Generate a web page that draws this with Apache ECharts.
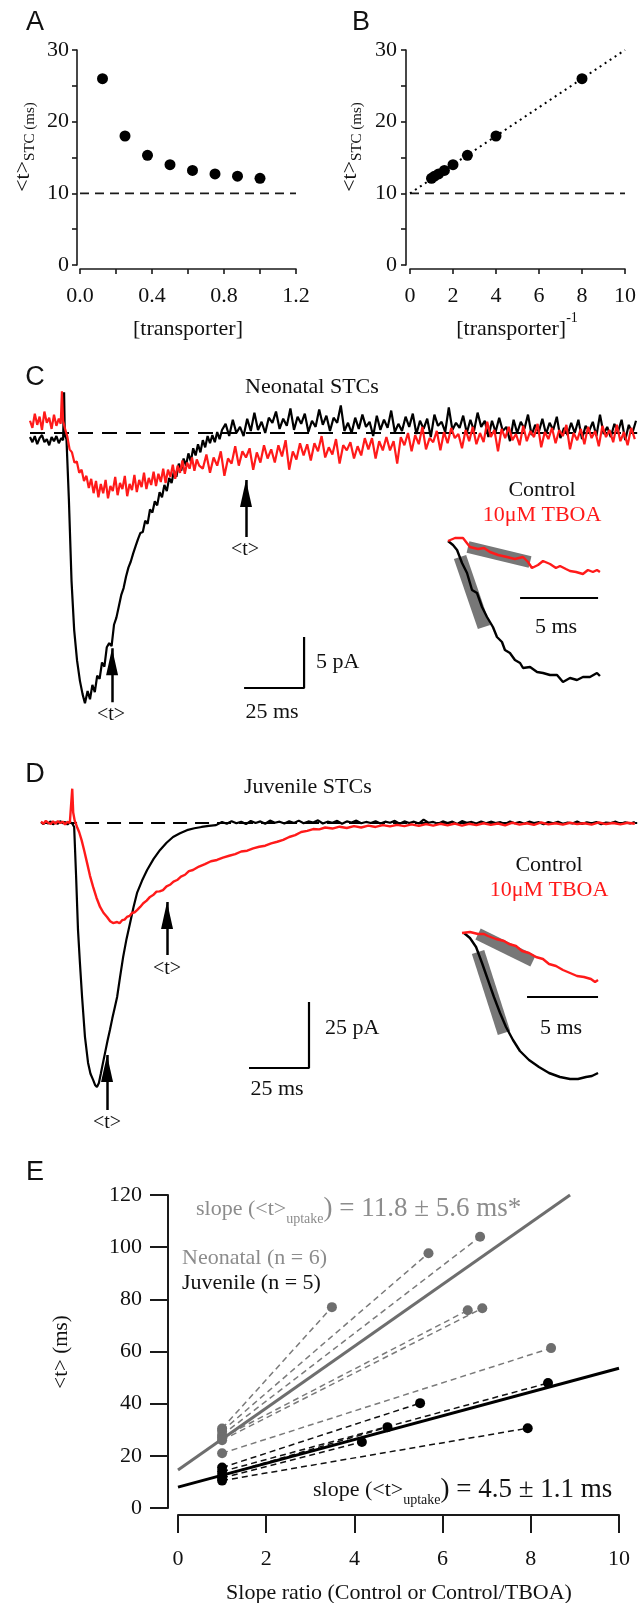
<!DOCTYPE html>
<html><head><meta charset="utf-8">
<script src="https://cdn.jsdelivr.net/npm/echarts@6/dist/echarts.min.js"></script>
<style>html,body{margin:0;padding:0;background:#fff}#chart{width:638px;height:1603px}</style>
</head><body><div id="chart"></div>
<script>
// ---------------- Panel A / B ----------------
const transporter = [0.125, 0.25, 0.375, 0.5, 0.625, 0.75, 0.875, 1.0];
const transporterInv = [8.0, 4.0, 2.67, 2.0, 1.6, 1.33, 1.14, 1.0];
const tauSTC = [26.0, 18.0, 15.3, 14.0, 13.2, 12.7, 12.4, 12.1];
const tauFloorA = [[0, 10], [1.2, 10]];
const tauFloorB = [[0, 10], [10, 10]];
const fitB = [[0, 10], [10, 30]];

// ---------------- Panel C (neonatal, ms / pA) ----------------
const cControl = [[0,-0.4],[1,-0.9],[2,-0.3],[3,-1.1],[4,-0.5],[5,-0.2],[6,-0.9],[7,-0.6],[8,-1.2],[9,-0.4],[10,-0.8],[11,-0.3],[12,-1.0],[13,-0.5],[13.8,-0.7],[14.2,4.0],[14.5,-0.2],[15.2,-0.6],[16.2,-6.5],[17.3,-14.5],[18.4,-19.3],[19.6,-22.3],[20.8,-24.3],[21.9,-25.6],[22.9,-26.5],[24,-25.3],[25,-26.1],[26,-24.7],[27,-25.4],[28,-23.8],[29,-24.1],[30,-22.5],[31,-22.9],[32,-21.0],[33,-20.6],[34,-20.9],[35,-18.8],[36,-18.1],[37,-17.0],[38,-15.9],[39,-15.2],[40,-14.1],[41,-13.2],[42,-12.6],[43,-11.8],[44,-11.1],[45,-10.4],[46,-9.8],[47,-9.7],[48,-8.6],[49,-8.9],[50,-7.5],[51,-7.8],[52,-6.7],[53,-7.1],[54,-5.8],[55,-6.3],[56,-5.1],[57,-5.7],[58,-4.4],[59,-4.9],[60,-3.7],[61,-4.3],[62,-3.0],[63,-3.7],[64,-2.5],[65,-3.2],[66,-2.0],[67,-2.8],[68,-1.5],[69,-2.2],[70,-1.1],[71,-1.9],[72,-0.7],[73,-1.4],[74,-0.3],[75,-1.0],[76,-0.2],[77,-0.9],[78,0.1],[79,-0.6],[80,0.3],
[81.5,0.9],[83,-0.3],[84.5,1.3],[86,0.0],[87.5,0.6],[89,-0.3],[90.5,1.4],[92,0.2],[93.5,2.0],[95,0.3],[96.5,1.1],[98,0.0],[99.5,1.5],[101,1.0],[102.5,2.1],[104,0.4],[105.5,1.4],[107,0.7],[108.5,2.4],[110,0.3],[111.5,1.6],[113,0.9],[114.5,1.9],[116,0.1],[117.5,1.2],[119,0.6],[120.5,2.3],[122,0.8],[123.5,1.7],[125,0.2],[126.5,1.5],[128,1.0],[129.5,2.7],[131,0.2],[132.5,1.0],[134,0.0],[135.5,1.5],[137,0.4],[138.5,1.8],[140,0.6],[141.5,1.1],[143,-0.3],[144.5,1.7],[146,0.3],[147.5,1.3],[149,0.5],[150.5,2.2],[152,0.1],[153.5,0.9],[155,0.2],[156.5,1.6],[158,0.6],[159.5,1.9],[161,-0.1],[162.5,1.2],[164,0.4],[165.5,1.4],[167,-0.4],[168.5,1.8],[170,0.7],[171.5,1.1],[173,0.1],[174.5,2.5],[176,0.3],[177.5,1.0],[179,0.5],[180.5,1.7],[182,0.0],[183.5,1.3],[185,0.2],[186.5,2.0],[188,0.6],[189.5,1.2],[191,-0.4],[192.5,1.2],[194,0.1],[195.5,1.5],[197,0.2],[198.5,0.6],[200,-0.8],[201.5,1.3],[203,0.0],[204.5,1.1],[206,0.4],[207.5,1.8],[209,-0.2],[210.5,0.8],[212,0.1],[213.5,1.4],[215,-0.1],[216.5,1.0],[218,0.3],[219.5,1.6],[221,-0.5],[222.5,0.5],[224,-0.2],[225.5,1.0],[227,0.0],[228.5,1.3],[230,-0.6],[231.5,0.7],[233,0.2],[234.5,1.1],[236,-0.3],[237.5,1.8],[239,-0.1],[240.5,0.6],[242,-0.4],[243.5,0.9],[245,0.1],[246.5,1.3],[248,-0.7],[249.5,0.8],[251,0.0],[252.5,1.2]];
const cTboa = [[0,1.2],[1,0.5],[2,1.9],[3,0.8],[4,1.6],[5,0.3],[6,2.1],[7,1.0],[8,1.5],[9,0.4],[10,1.8],[11,0.7],[12,1.4],[12.8,0.9],[13.3,4.1],[13.8,1.2],[14.6,0.4],[15.5,-0.3],[16.5,-1.6],[17.5,-1.9],[18.5,-2.9],[19.5,-2.8],[20.5,-3.9],[21.5,-3.6],[22.5,-4.7],[23.5,-4.2],[24.5,-5.4],[25.5,-4.5],[26.5,-5.9],[27.5,-4.7],[28.5,-6.3],[29.5,-5.0],[30.5,-5.9],[31.5,-4.6],[32.5,-6.4],[33.5,-5.2],[34.5,-5.7],[35.5,-4.3],[36.5,-6.1],[37.5,-4.9],[38.5,-5.5],[39.5,-4.2],[40.5,-6.2],[41.5,-5.0],[42.5,-5.6],[43.5,-4.1],[44.5,-5.8],[45.5,-4.6],[46.5,-5.3],[47.5,-3.9],[48.5,-5.5],[49.5,-4.4],[50.5,-5.1],[51.5,-3.8],[52.5,-5.2],[53.5,-4.0],[54.5,-4.8],[55.5,-3.5],[56.5,-4.9],[57.5,-3.6],[58.5,-4.3],[59.5,-3.1],[60.5,-4.5],[61.5,-3.2],[62.5,-3.9],[63.5,-2.7],[64.5,-4.0],[65.5,-2.9],[66.5,-3.5],[67.5,-2.4],[68.5,-3.7],[69.5,-2.6],[70.5,-3.2],
[72,-3.5],[73.5,-2.1],[75,-3.9],[76.5,-2.4],[78,-3.2],[79.5,-1.8],[81,-4.2],[82.5,-2.5],[84,-3.0],[85.5,-1.3],[87,-3.2],[88.5,-1.8],[90,-2.4],[91.5,-1.5],[93,-3.6],[94.5,-1.9],[96,-2.9],[97.5,-1.2],[99,-2.5],[100.5,-1.6],[102,-2.9],[103.5,-1.2],[105,-2.3],[106.5,-0.7],[108,-3.6],[109.5,-1.8],[111,-2.6],[112.5,-1.0],[114,-2.2],[115.5,-1.1],[117,-2.7],[118.5,-1.0],[120,-1.8],[121.5,-0.3],[123,-2.4],[124.5,-1.4],[126,-2.1],[127.5,-0.6],[129,-3.0],[130.5,-1.2],[132,-1.7],[133.5,-0.9],[135,-2.5],[136.5,-1.3],[138,-2.2],[139.5,-0.5],[141,-1.6],[142.5,-0.5],[144,-2.5],[145.5,-0.8],[147,-1.7],[148.5,-0.4],[150,-1.7],[151.5,-0.8],[153,-3.0],[154.5,-0.4],[156,-1.2],[157.5,0.0],[159,-1.8],[160.5,-0.2],[162,-1.1],[163.5,0.6],[165,-1.6],[166.5,-0.5],[168,-0.9],[169.5,0.2],[171,-1.7],[172.5,0.1],[174,-1.0],[175.5,0.5],[177,-0.5],[178.5,-0.1],[180,-1.5],[181.5,0.3],[183,-0.8],[184.5,0.6],[186,-1.1],[187.5,0.0],[189,-0.9],[190.5,1.1],[192,-0.4],[193.5,0.3],[195,-1.8],[196.5,0.4],[198,-0.5],[199.5,0.6],[201,-0.7],[202.5,-0.1],[204,-1.2],[205.5,0.7],[207,-0.8],[208.5,0.2],[210,-0.4],[211.5,0.9],[213,-1.4],[214.5,0.1],[216,-0.6],[217.5,0.5],[219,-1.0],[220.5,0.3],[222,-0.3],[223.5,0.8],[225,-1.6],[226.5,0.0],[228,-0.7],[229.5,0.4],[231,-1.1],[232.5,0.6],[234,-0.5],[235.5,0.2],[237,-1.3],[238.5,0.7],[240,-0.4],[241.5,0.3],[243,-0.9],[244.5,0.8],[246,-0.8],[247.5,0.1],[249,-1.2],[250.5,0.5],[252,-0.6]];
const cBaseline = [[0, 0], [253, 0]];
const cArrowT = [34.2, 90.0];
const cArrowTip = [-21.1, -4.6];
const cArrowEnd = [-26.4, -10.2];
const cScaleBar = [[89.2, -25], [114.2, -25], [114.2, -20]];

// C inset (ms / normalised)
const cInsetControl = [[0,0],[0.32,-0.4],[0.58,-0.9],[0.9,-2.2],[1.22,-3.2],[1.54,-4.9],[1.86,-5.2],[2.18,-6.6],[2.5,-7.6],[2.88,-8.6],[3.14,-9.6],[3.46,-10.1],[3.65,-10.9],[3.97,-11.2],[4.29,-11.9],[4.62,-12.2],[4.81,-12.7],[5.26,-12.6],[5.71,-13.1],[6.09,-13.2],[6.54,-13.4],[6.99,-13.4],[7.37,-14.1],[7.82,-13.7],[8.27,-13.9],[8.65,-13.6],[9.1,-13.6],[9.55,-13.2],[9.74,-13.5]];
const cInsetTboa = [[0,0],[0.45,0.3],[0.96,0.3],[1.41,-0.6],[1.92,-0.8],[2.31,-0.7],[2.69,-1.1],[3.21,-1.4],[3.78,-1.6],[4.29,-1.8],[4.81,-1.6],[5.13,-2.1],[5.38,-2.7],[5.77,-2.4],[6.09,-2.0],[6.54,-2.3],[6.92,-2.7],[7.18,-2.5],[7.56,-2.8],[7.82,-3.0],[8.21,-3.1],[8.65,-3.3],[8.97,-2.9],[9.29,-3.1],[9.55,-2.9],[9.74,-3.1]];
const cBandControl = [[0.77, -1.6], [2.31, -8.6]];
const cBandTboa = [[1.28, -0.6], [5.26, -2.1]];
const cInsetBar = [[4.62, -5.7], [9.62, -5.7]];

// ---------------- Panel D (juvenile, ms / pA) ----------------
const dControl = [[4.6,0.3],[5.6,-0.4],[6.6,0.5],[7.6,-0.2],[8.6,0.6],[9.6,-0.5],[10.6,0.2],[11.6,-0.3],[12.6,0.7],[13.6,-0.1],[14.6,0.4],[15.6,-0.6],[16.6,0.3],[17.6,-0.2],[18.4,-1.5],[19.2,-20.0],[20.0,-40.5],[20.8,-53.0],[21.7,-65.9],[22.9,-81.0],[24.2,-90.9],[25.2,-95.0],[26.3,-97.3],[27.1,-99.2],[27.9,-100.0],[28.7,-98.5],[29.5,-95.0],[30.4,-90.9],[31.4,-86.5],[32.3,-82.5],[33.3,-78.4],[34.3,-74.0],[35.3,-70.0],[36.3,-65.9],[37.5,-58.5],[38.8,-50.8],[40.2,-44.0],[41.7,-37.9],[43.1,-32.0],[44.6,-26.5],[46.7,-21.8],[48.8,-17.8],[51.5,-13.6],[54.2,-10.2],[56.9,-7.5],[59.6,-5.3],[62.5,-3.9],[65.4,-2.7],[68.5,-2.0],[71.5,-1.5],[74.5,-1.1],[77.5,-0.8],
[80,0.4],[82,-0.3],[84,0.7],[86,-0.1],[88,0.5],[90,-0.4],[92,0.8],[94,0.0],[96,0.6],[98,-0.3],[100,0.9],[102,0.1],[104,0.5],[106,-0.2],[108,0.7],[110,0.0],[112,0.9],[114,-0.1],[116,0.6],[118,0.2],[120,1.0],[122,-0.2],[124,0.5],[126,0.1],[128,0.8],[130,-0.3],[132,0.6],[134,0.2],[136,0.9],[138,-0.1],[140,0.4],[142,0.0],[144,0.7],[146,-0.2],[148,0.5],[150,0.1],[152,0.8],[154,-0.3],[156,0.6],[158,0.0],[160,0.5],[162,-0.2],[164,1.3],[166,0.1],[168,0.4],[170,-0.3],[172,0.6],[174,0.0],[176,0.5],[178,-0.4],[180,0.7],[182,0.1],[184,0.4],[186,-0.2],[188,0.6],[190,-0.1],[192,0.5],[194,0.0],[196,0.3],[198,-0.4],[200,0.6],[202,-0.1],[204,0.4],[206,-0.3],[208,0.5],[210,0.0],[212,0.3],[214,-0.5],[216,0.4],[218,-0.1],[220,0.5],[222,-0.3],[224,0.2],[226,-0.2],[228,0.6],[230,-0.4],[232,0.3],[234,-0.1],[236,0.4],[238,-0.5],[240,0.2],[242,0.0],[244,0.5],[246,-0.3],[248,0.3],[250,-0.2],[252,0.4]];
const dTboa = [[4.6,0.5],[5.6,-0.3],[6.6,0.8],[7.6,0.1],[8.6,-0.4],[9.6,0.6],[10.6,-0.2],[11.6,0.7],[12.6,0.0],[13.6,0.5],[14.6,-0.5],[15.6,0.4],[16.6,0.1],[17.2,0.8],[17.6,13.0],[18.0,4.0],[18.6,1.0],[19.6,-1.5],[20.5,-3.5],[21.5,-6.5],[22.6,-10.5],[23.8,-15.2],[25,-20.0],[26.3,-24.2],[27.7,-28.3],[29.2,-31.8],[30.6,-34.0],[32.1,-35.6],[33.4,-37.2],[34.6,-37.9],[35.4,-38.3],[36.3,-37.5],[37.3,-38.0],[38.4,-36.8],[39.4,-36.6],[40.4,-35.6],[41.5,-35.2],[42.5,-34.1],[43.6,-33.8],[44.6,-33.0],[45.9,-31.8],[47.2,-30.4],[48.6,-29.4],[50,-28.0],[51.3,-27.3],[52.7,-26.0],[54,-25.9],[55.4,-25.4],[56.9,-24.0],[58.3,-23.4],[59.8,-22.2],[61.3,-21.6],[62.9,-20.3],[64.6,-19.6],[66.2,-18.2],[67.9,-17.8],[70.4,-16.5],[72.9,-15.6],[75.4,-14.5],[77.9,-14.0],[80.4,-13.1],[83,-12.4],[85.5,-11.8],[88,-10.8],[90.5,-10.5],[93,-9.6],[95.5,-9.0],[98,-8.6],[100.5,-7.7],[103,-7.1],[105.5,-6.4],[108,-5.3],[110.5,-4.6],[113,-3.4],[115.5,-3.0],[118,-2.3],[120.5,-2.4],[123,-1.7],[126,-2.1],[129,-1.4],[132,-1.9],[135,-1.2],[138,-1.7],[141,-1.0],[144,-1.5],[147,-0.8],[150,-1.3],[153,-0.7],[156,-1.2],[159,-0.5],[162,-1.1],[165,-0.4],[168,-1.0],[171,-0.3],[174,-0.9],[177,-0.2],[180,-1.0],[183,-0.3],[186,-0.8],[189,-0.1],[192,-0.7],[195,-0.2],[198,-0.9],[201,0.1],[204,-0.6],[207,-0.1],[210,-0.7],[213,0.2],[216,-0.5],[219,-0.1],[222,-0.6],[225,0.1],[228,-0.4],[231,-0.1],[234,-0.6],[237,0.2],[240,-0.4],[243,0.0],[246,-0.5],[249,0.1],[252,-0.3]];
const dBaseline = [[4.6, 0], [253, 0]];
const dArrowT = [32.1, 57.1];
const dArrowTip = [-87.9, -29.9];
const dArrowEnd = [-108.7, -50.0];
const dScaleBar = [[91.25, -92.8], [116.25, -92.8], [116.25, -67.8]];

// D inset
const dInsetControl = [[0.14,0],[0.56,-0.5],[0.99,-1.4],[1.41,-3.0],[1.83,-4.7],[2.25,-6.4],[2.68,-8.0],[3.1,-9.4],[3.59,-10.7],[4.08,-11.8],[4.72,-12.7],[5.42,-13.4],[6.13,-14.0],[6.9,-14.4],[7.61,-14.6],[8.17,-14.6],[8.73,-14.4],[9.15,-14.3],[9.58,-14.0]];
const dInsetTboa = [[0,0],[0.56,0.1],[1.13,-0.1],[1.55,-0.1],[1.83,-0.3],[2.39,-0.6],[2.96,-0.8],[3.31,-1.1],[3.8,-1.3],[4.23,-1.8],[4.72,-2.0],[5.21,-2.4],[5.7,-2.6],[6.13,-3.1],[6.62,-3.3],[7.11,-3.7],[7.61,-4.0],[8.1,-4.3],[8.59,-4.4],[9.08,-4.6],[9.37,-4.9],[9.58,-4.7]];
const dBandControl = [[1.13, -1.9], [2.96, -10.0]];
const dBandTboa = [[1.13, -0.1], [5.0, -2.8]];
const dInsetBar = [[4.58, -6.4], [9.58, -6.4]];

// ---------------- Panel E ----------------
const neoControlY = [30.5, 29.5, 28.0, 27.0, 26.0, 21.0];
const neoRatioX = [3.49, 5.68, 6.85, 6.57, 6.90, 8.46];
const neoRatioY = [77.0, 97.7, 104.0, 75.8, 76.6, 61.3];
const juvControlY = [15.5, 14.0, 12.5, 11.5, 10.5];
const juvRatioX = [5.49, 8.39, 4.75, 4.17, 7.93];
const juvRatioY = [40.2, 47.9, 31.0, 25.3, 30.6];
const controlRatio = 1.0;
const neoFit = [[0, 14.6], [8.89, 120]];
const juvFit = [[0, 8.0], [10, 53.6]];

// ---------------- rendering ----------------
const F = '"Liberation Serif","Times New Roman",serif';
const FS = '"Liberation Sans",Arial,sans-serif';
const INK = '#1a1a1a';
const GRAY = '#6e6e6e';
const GTXT = '#8c8c8c';
const RED = '#ff1a1a';

function grid(left, top, width, height) {
  return {left: left, top: top, width: width, height: height, containLabel: false, outerBoundsMode: 'none'};
}
function hiddenAxis(gi, min, max) {
  return {gridIndex: gi, type: 'value', min: min, max: max, show: false};
}
function shownAxis(gi, min, max, interval, offset, o) {
  return {
    gridIndex: gi, type: 'value', min: min, max: max, interval: interval, offset: offset,
    axisLine: {show: true, onZero: false, lineStyle: {color: INK, width: o.lw || 1.6}},
    axisTick: {show: true, inside: false, length: o.tick, lineStyle: {color: INK, width: o.lw || 1.6}},
    minorTick: {show: !!o.minor, splitNumber: o.minor || 5, length: o.tick, lineStyle: {color: INK, width: o.lw || 1.6}},
    splitLine: {show: false}, minorSplitLine: {show: false},
    axisLabel: {show: true, margin: o.margin, fontSize: 22, fontFamily: F, color: '#111',
      showMinLabel: true, showMaxLabel: true, hideOverlap: false,
      formatter: o.fmt || function (v) { return String(Math.round(v * 100) / 100); }}
  };
}
const fmt1 = function (v) { return (Math.round(v * 10) / 10).toFixed(1); };

const xAxes = [
  Object.assign(shownAxis(0, 0, 1.2, 0.4, 4, {tick: 5, minor: 2, margin: 16, fmt: fmt1}), {position: 'bottom'}),
  Object.assign(shownAxis(1, 0, 10, 2, 4, {tick: 5, margin: 16}), {position: 'bottom'}),
  hiddenAxis(2, 0, 253),
  hiddenAxis(3, 0, 10),
  hiddenAxis(4, 0, 253),
  hiddenAxis(5, 0, 10),
  Object.assign(shownAxis(6, 0, 10, 2, 7, {tick: 18, margin: 33, lw: 2}), {position: 'bottom'})
];
const yAxes = [
  Object.assign(shownAxis(0, 0, 30, 10, 3, {tick: 5, minor: 2, margin: 8}), {position: 'left'}),
  Object.assign(shownAxis(1, 0, 30, 10, 4, {tick: 5, minor: 2, margin: 9}), {position: 'left'}),
  hiddenAxis(2, -30, 5),
  hiddenAxis(3, -15, 1),
  hiddenAxis(4, -115, 15),
  hiddenAxis(5, -16, 1),
  Object.assign(shownAxis(6, 0, 120, 20, 10, {tick: 18, margin: 26, lw: 2}), {position: 'left'})
];

function line(gi, data, color, width, extra) {
  return Object.assign({
    type: 'line', xAxisIndex: gi, yAxisIndex: gi, data: data, showSymbol: false, symbol: 'none',
    lineStyle: {color: color, width: width}, itemStyle: {color: color}, silent: true, clip: false, z: 3,
    animation: false
  }, extra || {});
}
function dots(gi, data, color, size) {
  return {type: 'scatter', xAxisIndex: gi, yAxisIndex: gi, data: data, symbol: 'circle', symbolSize: size,
    itemStyle: {color: color, opacity: 1}, silent: true, z: 5, clip: false, animation: false};
}
function arrows(gi, ts, tips, ends) {
  return [
    {type: 'lines', coordinateSystem: 'cartesian2d', xAxisIndex: gi, yAxisIndex: gi, silent: true, z: 6,
      data: ts.map(function (t, i) { return {coords: [[t, tips[i]], [t, ends[i]]]}; }),
      lineStyle: {color: '#000', width: 2.5, opacity: 1, curveness: 0}, animation: false},
    {type: 'scatter', xAxisIndex: gi, yAxisIndex: gi, silent: true, z: 7, clip: false, animation: false,
      data: ts.map(function (t, i) { return [t, tips[i]]; }),
      symbol: 'triangle', symbolSize: [12, 27], symbolOffset: [0, '50%'], itemStyle: {color: '#000', opacity: 1}}
  ];
}
function segs(gi, x0, y0s, x1s, y1s, color, width, dash) {
  return {type: 'lines', coordinateSystem: 'cartesian2d', xAxisIndex: gi, yAxisIndex: gi, silent: true, z: 2,
    data: y0s.map(function (y, i) { return {coords: [[x0, y], [x1s[i], y1s[i]]]}; }),
    lineStyle: {color: color, width: width, type: dash, opacity: 1, curveness: 0}, animation: false};
}

const series = [
  // A
  line(0, tauFloorA, INK, 1.6, {lineStyle: {color: INK, width: 1.6, type: [9, 6]}}),
  dots(0, transporter.map(function (x, i) { return [x, tauSTC[i]]; }), '#000', 11),
  // B
  line(1, tauFloorB, INK, 1.6, {lineStyle: {color: INK, width: 1.6, type: [9, 6]}}),
  line(1, fitB, '#000', 2, {lineStyle: {color: '#000', width: 2, type: [2, 4]}}),
  dots(1, transporterInv.map(function (x, i) { return [x, tauSTC[i]]; }), '#000', 11),
  // C
  line(2, cBaseline, '#000', 2.2, {lineStyle: {color: '#000', width: 2.2, type: [15, 9]}, z: 2}),
  line(2, cControl, '#000', 2.2),
  line(2, cTboa, RED, 2.2, {z: 4}),
  line(2, cScaleBar, '#000', 2.2),
  // C inset
  line(3, cBandControl, '#777', 13, {z: 1}),
  line(3, cBandTboa, '#777', 12, {z: 1}),
  line(3, cInsetControl, '#000', 2.4),
  line(3, cInsetTboa, RED, 2.4),
  line(3, cInsetBar, '#000', 2.2),
  // D
  line(4, dBaseline, '#000', 2.2, {lineStyle: {color: '#000', width: 2.2, type: [14, 8]}, z: 2}),
  line(4, dControl, '#000', 2.2),
  line(4, dTboa, RED, 2.4, {z: 4}),
  line(4, dScaleBar, '#000', 2.2),
  // D inset
  line(5, dBandControl, '#777', 13, {z: 1}),
  line(5, dBandTboa, '#777', 12, {z: 1}),
  line(5, dInsetControl, '#000', 2.4),
  line(5, dInsetTboa, RED, 2.4),
  line(5, dInsetBar, '#000', 2.2),
  // E
  segs(6, controlRatio, neoControlY, neoRatioX, neoRatioY, '#7a7a7a', 1.5, [6, 4]),
  segs(6, controlRatio, juvControlY, juvRatioX, juvRatioY, '#111', 1.5, [6, 4]),
  line(6, neoFit, GRAY, 3),
  line(6, juvFit, '#000', 3),
  dots(6, neoControlY.map(function (y) { return [controlRatio, y]; }).concat(neoRatioX.map(function (x, i) { return [x, neoRatioY[i]]; })), GRAY, 10),
  dots(6, juvControlY.map(function (y) { return [controlRatio, y]; }).concat(juvRatioX.map(function (x, i) { return [x, juvRatioY[i]]; })), '#000', 10)
].concat(arrows(2, cArrowT, cArrowTip, cArrowEnd), arrows(4, dArrowT, dArrowTip, dArrowEnd));

function T(x, y, text, o) {
  o = o || {};
  const al = o.align || 'center';
  const style = Object.assign({
    text: text, fontFamily: F, fontSize: 22, fill: '#111',
    align: al, verticalAlign: 'middle', textAlign: al, textVerticalAlign: 'middle'
  }, o.style || {});
  return {type: 'text', x: x, y: y, rotation: o.rotation || 0, style: style, z: 100, silent: true};
}
function letter(x, y, s) { return T(x, y, s, {style: {fontFamily: FS, fontSize: 27, fill: '#111'}}); }
const yNameRich = {
  a: {fontSize: 22, fontFamily: F, fill: '#111', verticalAlign: 'middle'},
  b: {fontSize: 15, fontFamily: F, fill: '#111', verticalAlign: 'middle', padding: [14, 0, 0, 0]}
};
function slopeRich(color) {
  return {
    a: {fontSize: 22, fontFamily: F, fill: color, verticalAlign: 'middle'},
    s: {fontSize: 14, fontFamily: F, fill: color, verticalAlign: 'middle', padding: [20, 0, 0, 0]},
    b: {fontSize: 27, fontFamily: F, fill: color, verticalAlign: 'middle'}
  };
}

const graphics = [
  letter(35, 23, 'A'), letter(361, 23, 'B'), letter(35, 378, 'C'), letter(35, 775, 'D'), letter(35, 1173, 'E'),
  T(23, 147, '{a|<t>}{b|STC (ms)}', {rotation: Math.PI / 2, style: {rich: yNameRich}}),
  T(350, 147, '{a|<t>}{b|STC (ms)}', {rotation: Math.PI / 2, style: {rich: yNameRich}}),
  T(188, 329, '[transporter]'),
  T(517, 329, '{a|[transporter]}{s|-1}', {style: {rich: {
    a: {fontSize: 22, fontFamily: F, fill: '#111', verticalAlign: 'middle'},
    s: {fontSize: 14, fontFamily: F, fill: '#111', verticalAlign: 'middle', padding: [0, 0, 22, 0]}}}}),
  // C
  T(245, 387, 'Neonatal STCs', {align: 'left'}),
  T(245, 550, '<t>', {style: {fontSize: 20}}),
  T(111, 715, '<t>', {style: {fontSize: 20}}),
  T(316, 662, '5 pA', {align: 'left'}),
  T(272, 712, '25 ms'),
  T(542, 490, 'Control'),
  T(542, 515, '10μM TBOA', {style: {fill: RED}}),
  T(556, 627, '5 ms'),
  // D
  T(244, 787, 'Juvenile STCs', {align: 'left'}),
  T(167, 969, '<t>', {style: {fontSize: 20}}),
  T(107, 1123, '<t>', {style: {fontSize: 20}}),
  T(325, 1028, '25 pA', {align: 'left'}),
  T(277, 1089, '25 ms'),
  T(549, 865, 'Control'),
  T(549, 890, '10μM TBOA', {style: {fill: RED}}),
  T(561, 1028, '5 ms'),
  // E
  T(196, 1209, '{a|slope (<t>}{s|uptake}{b|) = 11.8 ± 5.6 ms*}', {align: 'left', style: {rich: slopeRich(GTXT)}}),
  T(182, 1258, 'Neonatal (n = 6)', {align: 'left', style: {fill: GTXT}}),
  T(182, 1283, 'Juvenile (n = 5)', {align: 'left'}),
  T(313, 1490, '{a|slope (<t>}{s|uptake}{b|) = 4.5 ± 1.1 ms}', {align: 'left', style: {rich: slopeRich('#111')}}),
  T(61, 1352, '<t> (ms)', {rotation: Math.PI / 2, style: {fontSize: 21}}),
  T(399, 1593, 'Slope ratio (Control or Control/TBOA)')
];

const chart = echarts.init(document.getElementById('chart'), null, {renderer: 'canvas', width: 638, height: 1603});
chart.setOption({
  animation: false,
  backgroundColor: '#ffffff',
  grid: [
    grid(80, 50, 216, 215),
    grid(410, 50, 215, 215),
    grid(30, 382, 607.2, 357),
    grid(448, 531, 156, 160),
    grid(30, 783.4, 607.2, 343.2),
    grid(462, 923, 142, 170),
    grid(178, 1195, 441, 313)
  ],
  xAxis: xAxes,
  yAxis: yAxes,
  series: series,
  graphic: graphics
});
</script>
</body></html>
